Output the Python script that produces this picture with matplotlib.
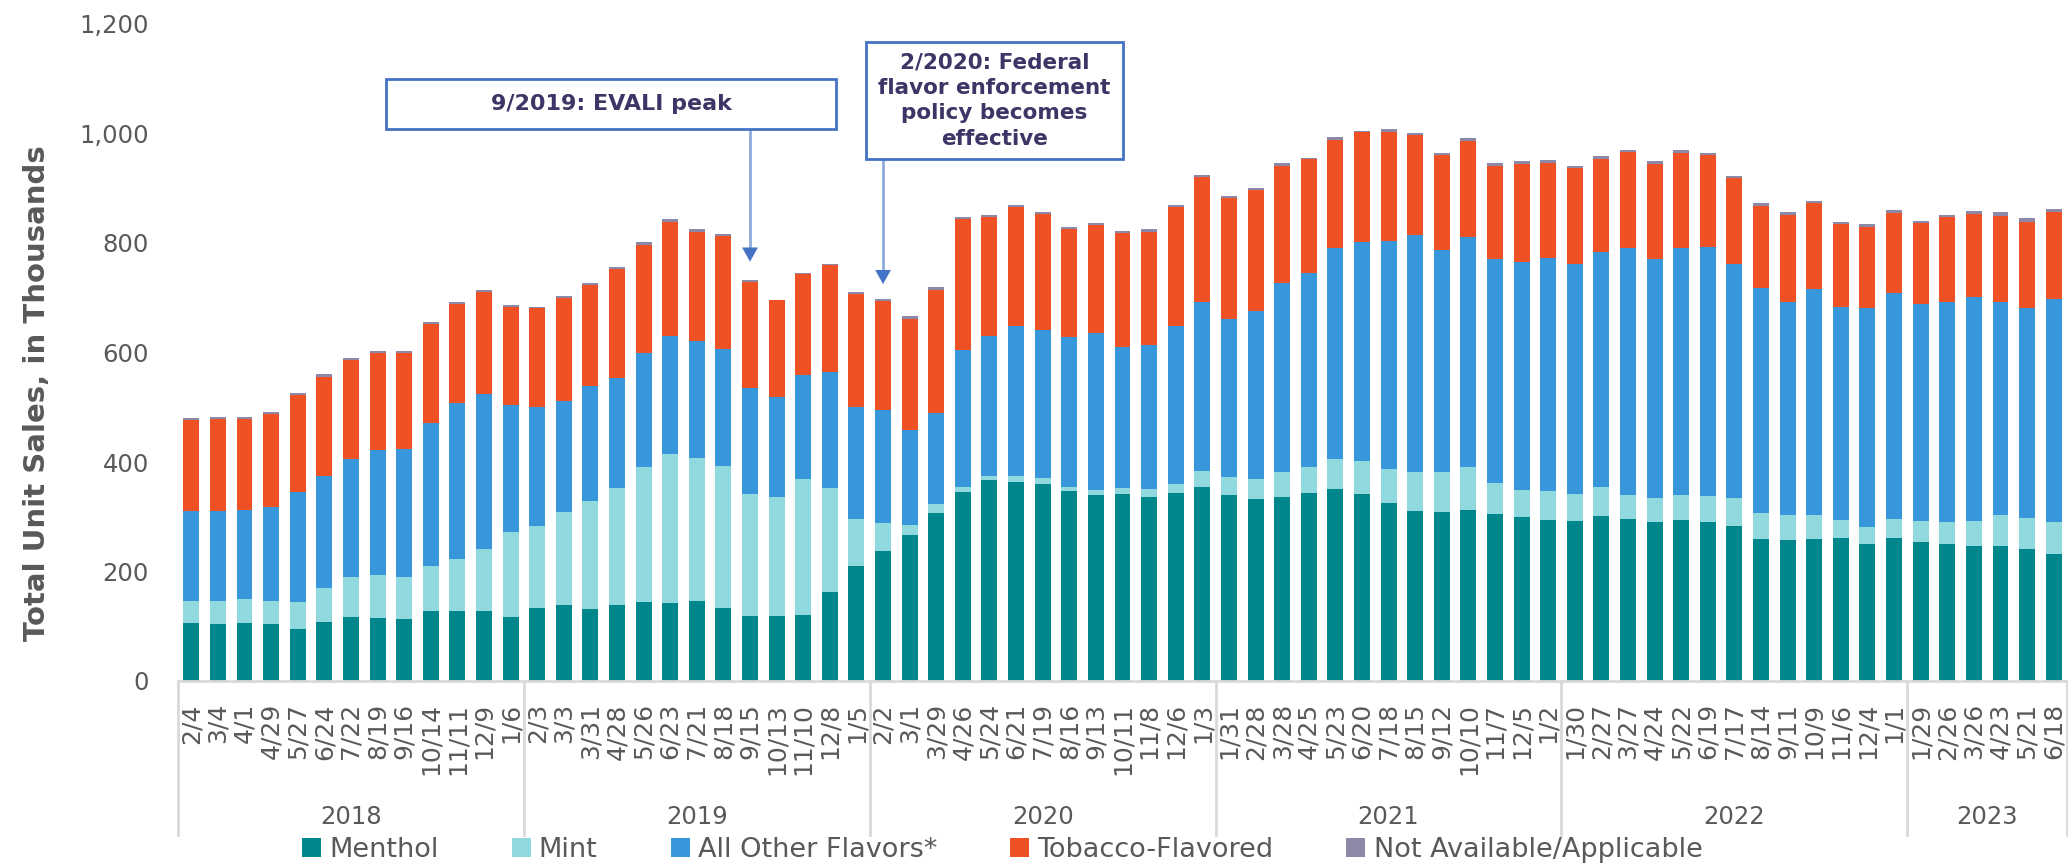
import matplotlib
matplotlib.use("Agg")
import matplotlib.pyplot as plt
from matplotlib.patches import Rectangle, Patch
import matplotlib.transforms as mtransforms
import numpy as np

plt.rcParams['font.family'] = ['DejaVu Sans']

# ---------------- data ----------------
years = ["2018", "2019", "2020", "2021", "2022", "2023"]
labels_2018 = ["2/4", "3/4", "4/1", "4/29", "5/27", "6/24", "7/22", "8/19", "9/16", "10/14", "11/11", "12/9", "1/6"]
labels_2019 = ["2/3", "3/3", "3/31", "4/28", "5/26", "6/23", "7/21", "8/18", "9/15", "10/13", "11/10", "12/8", "1/5"]
labels_2020 = ["2/2", "3/1", "3/29", "4/26", "5/24", "6/21", "7/19", "8/16", "9/13", "10/11", "11/8", "12/6", "1/3"]
labels_2021 = ["1/31", "2/28", "3/28", "4/25", "5/23", "6/20", "7/18", "8/15", "9/12", "10/10", "11/7", "12/5", "1/2"]
labels_2022 = ["1/30", "2/27", "3/27", "4/24", "5/22", "6/19", "7/17", "8/14", "9/11", "10/9", "11/6", "12/4", "1/1"]
labels_2023 = ["1/29", "2/26", "3/26", "4/23", "5/21", "6/18"]
year_groups = [labels_2018, labels_2019, labels_2020, labels_2021, labels_2022, labels_2023]

menthol = [106, 105, 106, 104, 95, 108, 116, 115, 113, 127, 127, 128, 117,
           134, 139, 131, 138, 145, 142, 146, 133, 118, 118, 121, 162, 210,
           237, 266, 307, 346, 367, 363, 360, 347, 339, 341, 336, 344, 355,
           339, 333, 336, 344, 350, 342, 325, 310, 308, 312, 305, 300, 294,
           293, 302, 296, 291, 294, 290, 284, 259, 257, 260, 261, 251, 261,
           254, 250, 246, 246, 242, 232]
mint = [40, 41, 43, 42, 50, 61, 74, 79, 77, 83, 95, 114, 155,
        149, 169, 198, 215, 245, 273, 261, 259, 224, 218, 248, 191, 86,
        52, 19, 17, 8, 8, 11, 11, 8, 9, 12, 14, 16, 28,
        34, 36, 46, 47, 56, 60, 63, 72, 73, 79, 56, 49, 53,
        48, 52, 43, 43, 45, 47, 50, 48, 46, 43, 33, 30, 35,
        39, 40, 47, 57, 56, 59]
other = [164, 164, 164, 172, 200, 205, 215, 228, 233, 261, 286, 282, 233,
         217, 204, 210, 201, 209, 216, 214, 215, 193, 182, 189, 211, 204,
         206, 173, 165, 250, 256, 275, 271, 273, 287, 257, 263, 288, 309,
         289, 306, 345, 355, 385, 399, 415, 432, 407, 420, 409, 417, 426,
         421, 430, 451, 436, 452, 455, 427, 411, 390, 413, 389, 400, 412,
         396, 403, 408, 389, 383, 407]
tobacco = [166, 168, 165, 170, 177, 182, 182, 177, 176, 181, 180, 186, 178,
           181, 188, 185, 198, 198, 208, 200, 205, 193, 177, 186, 196, 206,
           199, 204, 226, 239, 216, 216, 211, 197, 197, 208, 208, 217, 229,
           220, 221, 214, 207, 198, 201, 200, 183, 173, 176, 171, 178, 174,
           175, 170, 176, 175, 174, 168, 157, 150, 159, 157, 151, 148, 147,
           148, 155, 152, 157, 158, 158]
not_avail = [4, 4, 5, 4, 4, 4, 3, 4, 4, 4, 4, 5, 4,
             3, 3, 3, 4, 4, 4, 4, 4, 4, 1, 1, 2, 4,
             4, 4, 4, 4, 4, 4, 4, 4, 4, 4, 4, 4, 4,
             4, 4, 5, 3, 4, 3, 5, 4, 3, 4, 5, 5, 4,
             4, 4, 4, 4, 4, 4, 4, 5, 4, 4, 5, 5, 5,
             4, 4, 5, 7, 7, 7]

series_names = ["Menthol", "Mint", "All Other Flavors*", "Tobacco-Flavored", "Not Available/Applicable"]
series_values = [menthol, mint, other, tobacco, not_avail]
series_colors = ["#00868B", "#90D9DE", "#3797DA", "#F05124", "#8E88A8"]

# annotations: (text, index of bar pointed at, arrow tip value, box x-range, box y-range)
ann_evali_text = "9/2019: EVALI peak"
ann_evali_idx = 21
ann_evali_tip = 766
ann_evali_box = (7.32, 24.23, 1008, 1099)
ann_fed_text = "2/2020: Federal\nflavor enforcement\npolicy becomes\neffective"
ann_fed_idx = 26
ann_fed_tip = 725
ann_fed_box = (25.35, 35.01, 953, 1167)

# ---------------- figure ----------------
W, H = 2068, 867
fig = plt.figure(figsize=(W / 100, H / 100), dpi=100)
ax = fig.add_axes([178 / W, 1 - 681 / H, (2067 - 178) / W, 657 / H])

tick_labels = [lab for grp in year_groups for lab in grp]
x = np.arange(len(tick_labels))
bottom = np.zeros(len(x))
for name, vals, col in zip(series_names, series_values, series_colors):
    v = np.array(vals, dtype=float)
    ax.bar(x, v, width=0.6, bottom=bottom, color=col, label=name, linewidth=0)
    bottom += v

ax.set_xlim(-0.5, len(x) - 0.5)
ax.set_ylim(0, 1200)
ax.set_yticks(np.arange(0, 1201, 200))
ax.set_yticklabels([f"{int(v):,}" for v in np.arange(0, 1201, 200)])
ax.tick_params(axis='y', length=0, pad=21, labelsize=17.5, labelcolor="#595959")
ax.set_xticks(x)
ax.set_xticklabels(tick_labels, rotation=90, fontsize=18, color="#595959")
ax.tick_params(axis='x', length=0, pad=16)
for s in ["top", "right", "left"]:
    ax.spines[s].set_visible(False)
ax.spines["bottom"].set_color("#D9D9D9")
ax.spines["bottom"].set_linewidth(2)

# year groups
trans = mtransforms.blended_transform_factory(ax.transData, ax.transAxes)
start = -0.5
bounds = [start]
for grp in year_groups:
    start += len(grp)
    bounds.append(start)
for b in bounds:
    ax.plot([b, b], [0, -0.234], transform=trans, color="#D9D9D9", lw=2, clip_on=False)
for yr, a, b in zip(years, bounds[:-1], bounds[1:]):
    ax.text((a + b) / 2, -0.207, yr, transform=trans, ha="center", va="center",
            fontsize=17.5, color="#595959")

# y label
fig.text(37 / W, 1 - 393 / H, "Total Unit Sales, in Thousands", rotation=90,
         ha="center", va="center", fontsize=21, fontweight="bold", color="#595959")

# annotations
txt_color = "#3D3566"
for text, idx, tip, box, fs, ls in [
        (ann_evali_text, ann_evali_idx, ann_evali_tip, ann_evali_box, 16, 1.2),
        (ann_fed_text, ann_fed_idx, ann_fed_tip, ann_fed_box, 15.5, 1.35)]:
    x0, x1, y0, y1 = box
    ax.add_patch(Rectangle((x0, y0), x1 - x0, y1 - y0, facecolor="white",
                           edgecolor="#4472C4", lw=2, clip_on=False, zorder=5))
    ax.text((x0 + x1) / 2, (y0 + y1) / 2, text, ha="center", va="center",
            fontsize=fs, fontweight="bold", color=txt_color, linespacing=ls, zorder=6)
    ax.plot([idx, idx], [y0, tip + 20], color="#8FAADC", lw=2, zorder=4, clip_on=False)
    ax.annotate("", xy=(idx, tip), xytext=(idx, tip + 26),
                arrowprops=dict(arrowstyle="-|>,head_length=0.5,head_width=0.28",
                                color="#4472C4", lw=0.1, mutation_scale=20,
                                shrinkA=0, shrinkB=0), zorder=5)

# legend
handles = [Patch(facecolor=c, edgecolor="none") for c in series_colors]
leg = fig.legend(handles, series_names, loc="center left",
                 bbox_to_anchor=(302 / W, 1 - 850 / H), ncol=5, frameon=False,
                 fontsize=19.5, handlelength=0.7, handleheight=0.7,
                 handletextpad=0.3, columnspacing=2.7, borderpad=0, borderaxespad=0)
for t in leg.get_texts():
    t.set_color("#595959")

fig.savefig("out.png", dpi=100)
